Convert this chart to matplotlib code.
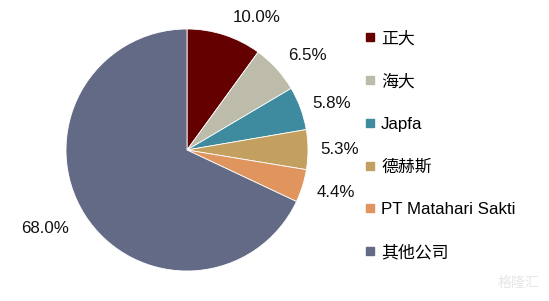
import matplotlib
matplotlib.use("Agg")
import matplotlib.pyplot as plt
from matplotlib.lines import Line2D
import numpy as np

labels = ["正大", "海大", "Japfa", "德赫斯", "PT Matahari Sakti", "其他公司"]
values = [10.0, 6.5, 5.8, 5.3, 4.4, 68.0]
colors = ["#650000", "#BDBBAA", "#3E8A9E", "#C3A060", "#E0945E", "#636A85"]

# label anchor positions (in units of pie radius), as laid out in the original
label_pos = [(0.579, 1.099), (0.992, 0.785), (1.198, 0.388),
             (1.264, 0.0), (1.231, -0.355), (-1.174, -0.645)]

plt.rcParams['font.family'] = ['Liberation Sans', 'Noto Sans CJK SC', 'DejaVu Sans']
FS = 12.2

fig = plt.figure(figsize=(5.49, 3.01), dpi=100)
W, H = 549, 301
cx, cy, r = 187, 150, 121
ax = fig.add_axes([(cx - r) / W, (H - cy - r) / H, 2 * r / W, 2 * r / H])

wedges, texts, autotexts = ax.pie(
    values, colors=colors, startangle=90, counterclock=False,
    autopct=lambda p: f"{p:.1f}%", pctdistance=1.27, radius=1.0,
    wedgeprops=dict(edgecolor="white", linewidth=0.6),
    textprops=dict(fontsize=FS, color="#111111"))
ax.set_xlim(-1, 1)
ax.set_ylim(-1, 1)
ax.set_aspect('auto')
for t, p in zip(autotexts, label_pos):
    t.set_position(p)
    t.set_clip_on(False)

handles = [Line2D([0], [0], marker='s', linestyle='none', markersize=5.8,
                  markerfacecolor=c, markeredgecolor=c) for c in colors]
fig.legend(handles, labels, loc='upper left',
           bbox_to_anchor=(365 / W, 1 - 31 / H), frameon=False,
           fontsize=FS, labelspacing=1.62, handlelength=0.6,
           handletextpad=0.35, borderaxespad=0, borderpad=0)

fig.text(518 / W, 1 - 283 / H, "格隆汇", fontsize=10, color="#E6E6E6",
         ha='center', va='center')

fig.savefig("out.png", dpi=100)
